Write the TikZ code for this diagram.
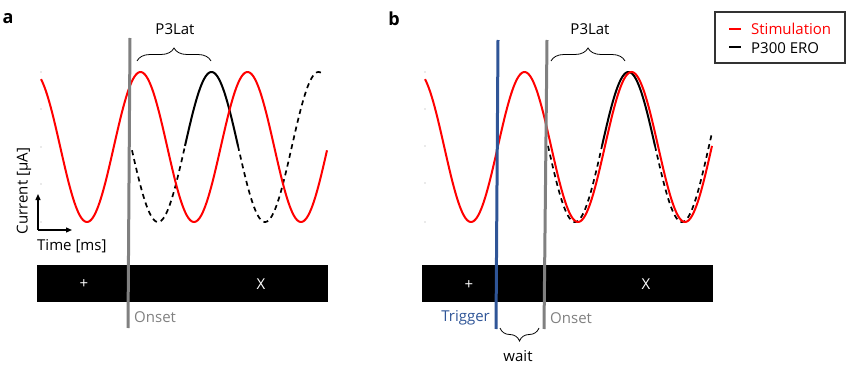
\documentclass[tikz,border=0pt]{standalone}
\usepackage{fontspec}
\setmainfont{Open Sans}
\usetikzlibrary{decorations.pathreplacing,arrows.meta}
\definecolor{onsetgray}{RGB}{128,128,128}
\definecolor{trigblue}{RGB}{47,85,151}
\definecolor{stimred}{RGB}{255,0,0}
\begin{document}
\begin{tikzpicture}[x=1pt,y=-1pt,
 stim/.style={stimred, line width=2pt},
 ero/.style={black, line width=2pt},
 erodash/.style={black, line width=1.7pt, dash pattern=on 5pt off 4pt},
 onsetline/.style={draw=onsetgray, line width=3pt},
 trigline/.style={draw=trigblue, line width=3pt},
 lbl/.style={font=\fontsize{15}{17}\selectfont, inner sep=0pt},
 panel/.style={font=\fontsize{18}{20}\selectfont\bfseries, inner sep=0pt},
 stimbar/.style={fill=black, draw=none},
 brc/.style={decorate, decoration={brace, amplitude=13pt}, line width=0.8pt},
 tickdot/.style={fill=gray!70, circle, inner sep=0pt, minimum size=1.2pt},
 axarrow/.style={line width=1.3pt, -{Triangle[length=6pt,width=5pt]}},
]
\useasboundingbox (0,0) rectangle (849,369);

% ---------- panel a ----------
\node[panel] (la) at (8,19) {a};
\foreach \yy [count=\i] in {72,109,147,184,222} \node[tickdot] (ta\i) at (41,\yy) {};
% black ERO
\draw[erodash] plot[domain=132:185, samples=60] (\x,{147+75*cos(3.36449*(\x-158))});
\draw[ero] plot[domain=185:238, samples=60] (\x,{147+75*cos(3.36449*(\x-158))});
\draw[erodash] plot[domain=238:323, samples=80] (\x,{147+75*cos(3.36449*(\x-158))});
% stimulation
\draw[stim] plot[domain=41:327, samples=240] (\x,{147+75*cos(3.36449*(\x-87))});
% bar
\fill[stimbar] (37,265) rectangle (328,302);
\node[lbl, text=white] (plusa) at (84,284) {+};
\node[lbl, text=white] (xa) at (261,284) {X};
% onset
\coordinate (onaT) at (130,38);
\coordinate (onaB) at (128,328);
\draw[onsetline] (onaT) -- (onaB);
\node[lbl, text=onsetgray, anchor=west] (onseta) at (134,317) {Onset};
% brace
\coordinate (p3aL) at (137,61);
\coordinate (p3aR) at (211,61);
\draw[brc] (p3aL) -- (p3aR);
\node[lbl] (p3a) at (175,29) {P3Lat};
% axes
\coordinate (ax0) at (38,230);
\coordinate (axY) at (38,194);
\coordinate (axX) at (72,230);
\draw[axarrow] (ax0) -- (axY);
\draw[axarrow] (ax0) -- (axX);
\node[lbl, rotate=90] (cur) at (24,191) {Current [µA]};
\node[lbl, anchor=west] (time) at (37,246) {Time [ms]};

% ---------- panel b ----------
\node[panel] (lb) at (394,19) {b};
\foreach \yy [count=\i] in {72,109,146,183,222} \node[tickdot] (tb\i) at (425,\yy) {};
\draw[erodash] plot[domain=548:602, samples=60] (\x,{147+75*cos(3.36449*(\x-575))});
\draw[ero] plot[domain=602:655, samples=60] (\x,{147+75*cos(3.36449*(\x-575))});
\draw[erodash] plot[domain=655:712, samples=60] (\x,{147+75*cos(3.36449*(\x-575))});
\draw[stim] plot[domain=425:712, samples=240] (\x,{147+75*cos(3.36449*(\x-471))});
\fill[stimbar] (422,265) rectangle (713,302);
\node[lbl, text=white] (plusb) at (469,285) {+};
\node[lbl, text=white] (xb) at (646,284) {X};
\coordinate (trT) at (498,40);
\coordinate (trB) at (496,329);
\draw[trigline] (trT) -- (trB);
\coordinate (onbT) at (547,40);
\coordinate (onbB) at (544,329);
\draw[onsetline] (onbT) -- (onbB);
\node[lbl, text=trigblue, anchor=east] (trig) at (490,318) {Trigger};
\node[lbl, text=onsetgray, anchor=west] (onsetb) at (550,318) {Onset};
\coordinate (p3bL) at (551,61);
\coordinate (p3bR) at (625,61);
\draw[brc] (p3bL) -- (p3bR);
\node[lbl] (p3b) at (590,29) {P3Lat};
\coordinate (wR) at (539,328);
\coordinate (wL) at (500,328);
\draw[brc] (wR) -- (wL);
\node[lbl] (wait) at (518,356) {wait};

% legend
\node[draw=black!80, line width=1.3pt, minimum width=130pt, minimum height=51pt, inner sep=0pt] (leg) at (780,37.5) {};
\coordinate (l1a) at (729,29);
\coordinate (l1b) at (741,29);
\draw[stimred, line width=2.5pt] (l1a) -- (l1b);
\node[lbl, text=stimred, anchor=west] (legstim) at (751,29) {Stimulation};
\coordinate (l2a) at (729,47);
\coordinate (l2b) at (741,47);
\draw[black, line width=2.5pt] (l2a) -- (l2b);
\node[lbl, anchor=west] (legero) at (751,48) {P300 ERO};
\end{tikzpicture}
\end{document}
